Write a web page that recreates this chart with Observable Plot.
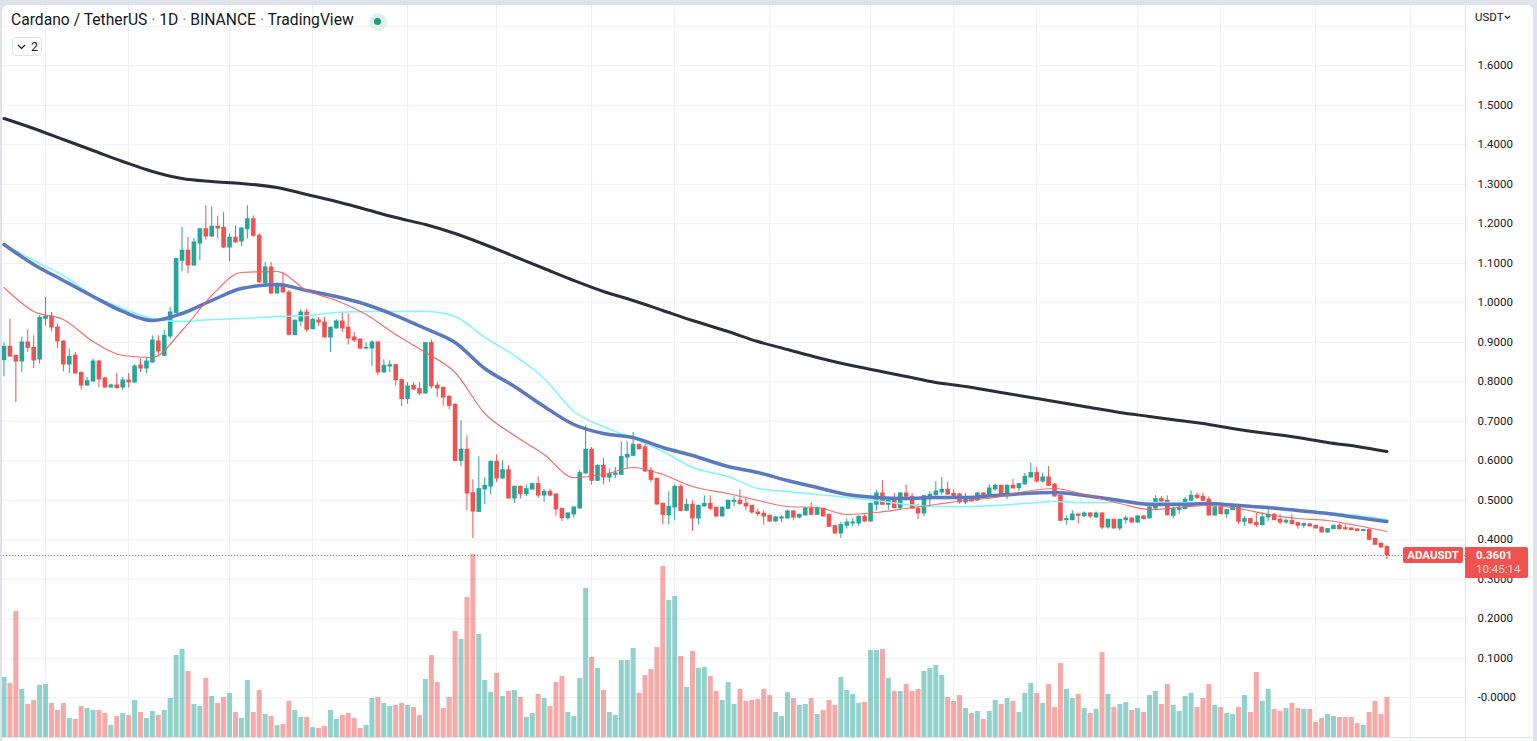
<!DOCTYPE html>
<html>
<head>
<meta charset="utf-8">
<script src="https://cdn.jsdelivr.net/npm/d3@7"></script>
<script src="https://cdn.jsdelivr.net/npm/@observablehq/plot@0.6"></script>
<style>
  html, body { margin:0; padding:0; width:1537px; height:741px; overflow:hidden; background:#e0e3eb; font-family: Roboto, "Noto Sans", sans-serif; color:#131722; }
  #panel { position:absolute; left:2px; top:5px; width:1531px; height:760px; background:#fff; border-radius:6px; overflow:hidden; }
  #stage { position:absolute; left:-2px; top:-5px; width:1537px; height:741px; }
  #stage svg { position:absolute; left:0; top:0; }
  .sep-v { position:absolute; left:1465px; top:0; width:1px; height:741px; background:#e0e3eb; }
  .sep-h { position:absolute; left:0; top:737px; width:1537px; height:1px; background:#e0e3eb; }
  #title { position:absolute; left:11px; top:10px; line-height:20px; font-size:14px; white-space:nowrap; color:#131722; }
  #title .dot { color:#787b86; }
  #live { position:absolute; left:368.5px; top:12.5px; width:18px; height:18px; border-radius:50%; background:#dff2ed; }
  #live i { position:absolute; left:5.5px; top:5.5px; width:7px; height:7px; border-radius:50%; background:#1b9e7f; }
  #collapse { position:absolute; left:12px; top:37px; width:28px; height:17px; border:1px solid #e0e3eb; border-radius:4px; background:#fff; font-size:12.5px; line-height:17px; }
  #collapse svg { position:absolute; left:4px; top:6px; }
  #collapse span { position:absolute; left:18px; top:0; }
  #usdt { position:absolute; left:1475px; top:9px; font-size:11.5px; line-height:16px; }
  #usdt svg { position:absolute; left:29px; top:6px; }
  #tag { position:absolute; left:1403px; width:60px; height:16px; background:#ef5350; color:#fff; font-size:11.5px; font-weight:bold; line-height:16px; text-align:center; border-radius:2px; }
  #badge { position:absolute; left:1465px; width:63px; height:31px; background:#ef5350; color:#fff; border-radius:0 2px 2px 0; }
  #badge .p { position:absolute; left:11px; top:1px; font-size:11.5px; font-weight:bold; line-height:15px; }
  #badge .t { position:absolute; left:11px; top:15px; font-size:11.5px; line-height:15px; color:rgba(255,255,255,0.78); }
</style>
</head>
<body>
<div id="panel"><div id="stage"></div></div>
<script>
// ---------------- data ----------------
const startDate = "2022-02-22";   // first daily candle (ADA/USDT, Binance)
const opens = [
0.8548,0.8886,0.8658,0.8514,0.8995,0.8860,0.8565,0.9595,0.9645,0.9375,
0.9021,0.8438,0.8658,0.8227,0.7907,0.8008,0.8514,0.8084,0.7856,0.7907,
0.7856,0.8033,0.7983,0.8413,0.8337,0.8489,0.9021,0.8658,0.9147,0.9738,
1.1063,1.1316,1.0945,1.1502,1.1865,1.1679,1.1924,1.1899,1.1401,1.1646,
1.1553,1.1865,1.2118,1.1696,1.0498,1.0894,1.0236,1.0464,1.0261,0.9181,
0.9527,0.9755,0.9333,0.9552,0.9502,0.9122,0.9350,0.9527,0.9367,0.9122,
0.9071,0.8843,0.8843,0.8995,0.8236,0.8388,0.8421,0.8042,0.7561,0.7898,
0.7814,0.7704,0.8979,0.7898,0.7848,0.7620,0.7417,0.5999,0.6278,0.5181,
0.4708,0.5274,0.5349,0.5974,0.5552,0.5763,0.5046,0.5341,0.5155,0.5274,
0.5409,0.5122,0.5214,0.5147,0.4784,0.4548,0.4641,0.4792,0.5679,0.6278,
0.5493,0.5873,0.5577,0.5645,0.5645,0.6084,0.6126,0.6405,0.6337,0.5746,
0.5544,0.4911,0.4624,0.4818,0.5341,0.4733,0.4886,0.4540,0.4844,0.4911,
0.4810,0.4591,0.4785,0.4962,0.4987,0.4911,0.4861,0.4692,0.4658,0.4608,
0.4464,0.4540,0.4540,0.4717,0.4565,0.4616,0.4785,0.4633,0.4785,0.4633,
0.4346,0.4160,0.4354,0.4413,0.4413,0.4582,0.4464,0.4886,0.5173,0.4886,
0.4987,0.4802,0.5173,0.5089,0.4776,0.4667,0.5097,0.5130,0.5198,0.5266,
0.5164,0.5147,0.4945,0.5012,0.4995,0.5173,0.5097,0.5274,0.5367,0.5097,
0.5367,0.5308,0.5401,0.5578,0.5688,0.5477,0.5578,0.5392,0.5114,0.4497,
0.4497,0.4641,0.4599,0.4666,0.4565,0.4666,0.4312,0.4506,0.4287,0.4497,
0.4540,0.4438,0.4591,0.4540,0.4793,0.5029,0.4987,0.4608,0.4760,0.4777,
0.4988,0.5114,0.5089,0.5013,0.4616,0.4819,0.4650,0.4751,0.4861,0.4456,
0.4523,0.4422,0.4371,0.4566,0.4633,0.4507,0.4439,0.4481,0.4422,0.4355,
0.4388,0.4355,0.4304,0.4186,0.4270,0.4355,0.4295,0.4287,0.4262,0.4220,
0.4245,0.4025,0.3899,0.3823];
const highs = [
0.8995,0.9586,0.8675,0.9122,0.9316,0.9164,0.9670,1.0135,0.9755,0.9460,
0.9040,0.8827,0.8742,0.8240,0.8109,0.8573,0.8548,0.8109,0.7940,0.8210,
0.8109,0.8210,0.8430,0.8573,0.8616,0.9164,0.9164,0.9308,0.9882,1.1122,
1.1907,1.1654,1.1629,1.1882,1.2456,1.2430,1.2186,1.2287,1.1738,1.1949,
1.1900,1.2456,1.2203,1.1747,1.1021,1.1021,1.0498,1.0751,1.0304,0.9570,
0.9823,0.9839,0.9603,0.9620,0.9628,0.9392,0.9570,0.9772,0.9713,0.9249,
0.9080,0.8995,0.9038,0.9021,0.8557,0.8531,0.8438,0.8067,0.7983,0.7966,
0.7983,0.8995,0.9063,0.7983,0.7865,0.7645,0.7440,0.7012,0.6632,0.5518,
0.6101,0.5577,0.5999,0.6151,0.5999,0.5873,0.5360,0.5360,0.5392,0.5420,
0.5594,0.5274,0.5274,0.5160,0.4800,0.4680,0.4830,0.5763,0.6886,0.6337,
0.5890,0.6058,0.5788,0.5831,0.6480,0.6480,0.6717,0.6420,0.6405,0.5831,
0.5560,0.4920,0.5214,0.5392,0.5392,0.5029,0.4987,0.4870,0.5114,0.5114,
0.4820,0.4835,0.5000,0.5089,0.5266,0.5063,0.4870,0.4776,0.4734,0.4620,
0.4591,0.4608,0.4751,0.4734,0.4650,0.4819,0.4937,0.4835,0.4800,0.4650,
0.4360,0.4439,0.4523,0.4523,0.4608,0.4633,0.4930,0.5241,0.5494,0.5046,
0.5173,0.5198,0.5384,0.5173,0.4903,0.5115,0.5223,0.5468,0.5578,0.5451,
0.5266,0.5181,0.5173,0.5097,0.5198,0.5198,0.5392,0.5409,0.5380,0.5392,
0.5536,0.5434,0.5679,0.5941,0.5831,0.5688,0.5856,0.5426,0.5130,0.4607,
0.4734,0.4650,0.4708,0.4692,0.4708,0.4680,0.4520,0.4520,0.4520,0.4607,
0.4550,0.4607,0.4607,0.4830,0.5114,0.5097,0.5114,0.4819,0.4861,0.5072,
0.5241,0.5182,0.5182,0.5089,0.4903,0.4861,0.4777,0.4903,0.4903,0.4582,
0.4549,0.4667,0.4692,0.4819,0.4667,0.4633,0.4523,0.4633,0.4430,0.4422,
0.4414,0.4360,0.4329,0.4287,0.4371,0.4397,0.4371,0.4304,0.4287,0.4262,
0.4287,0.4030,0.3933,0.3830];
const lows = [
0.8126,0.8620,0.7476,0.8236,0.8742,0.8337,0.8447,0.9417,0.9265,0.8843,
0.8253,0.8210,0.8193,0.7789,0.7881,0.7983,0.7856,0.7839,0.7839,0.7814,
0.7780,0.7839,0.7957,0.8236,0.8210,0.8470,0.8641,0.8641,0.9080,0.9713,
1.0785,1.0742,1.0930,1.1063,1.1586,1.1660,1.1629,1.1380,1.1046,1.1510,
1.1426,1.1612,1.1654,1.0498,1.0396,1.0211,1.0220,1.0250,0.9164,0.9170,
0.9401,0.9249,0.9316,0.9401,0.9110,0.8742,0.9333,0.9249,0.8928,0.8995,
0.8810,0.8810,0.8388,0.8151,0.8219,0.8236,0.7898,0.7375,0.7434,0.7789,
0.7645,0.7687,0.7814,0.7603,0.7392,0.7291,0.5970,0.5847,0.4733,0.4033,
0.4691,0.4894,0.5147,0.5451,0.5540,0.5030,0.4919,0.5029,0.5096,0.5257,
0.5046,0.4944,0.5096,0.4598,0.4463,0.4497,0.4548,0.4780,0.5660,0.5383,
0.5470,0.5392,0.5451,0.5552,0.5630,0.5788,0.6110,0.6269,0.5710,0.5451,
0.4880,0.4379,0.4379,0.4480,0.4716,0.4720,0.4211,0.4371,0.4830,0.4734,
0.4565,0.4580,0.4760,0.4835,0.4886,0.4734,0.4650,0.4591,0.4371,0.4439,
0.4439,0.4439,0.4530,0.4481,0.4523,0.4608,0.4620,0.4620,0.4574,0.4312,
0.4143,0.4034,0.4270,0.4329,0.4338,0.4447,0.4450,0.4734,0.4870,0.4751,
0.4790,0.4751,0.4987,0.4776,0.4515,0.4590,0.4860,0.5071,0.5130,0.5130,
0.5071,0.4903,0.4886,0.4962,0.4980,0.5071,0.5080,0.5240,0.5080,0.5012,
0.5290,0.5223,0.5390,0.5561,0.5434,0.5434,0.5350,0.5080,0.4455,0.4371,
0.4480,0.4396,0.4565,0.4540,0.4550,0.4253,0.4270,0.4270,0.4227,0.4396,
0.4422,0.4422,0.4506,0.4530,0.4776,0.4860,0.4610,0.4540,0.4650,0.4760,
0.4971,0.5030,0.4971,0.4600,0.4600,0.4640,0.4540,0.4740,0.4397,0.4338,
0.4397,0.4312,0.4355,0.4464,0.4490,0.4380,0.4397,0.4380,0.4270,0.4287,
0.4330,0.4280,0.4180,0.4160,0.4253,0.4245,0.4253,0.4228,0.4203,0.4211,
0.3975,0.3865,0.3781,0.3494];
const closes = [
0.8886,0.8641,0.8514,0.8995,0.8860,0.8540,0.9620,0.9645,0.9375,0.9021,
0.8438,0.8632,0.8210,0.7907,0.8016,0.8514,0.8059,0.7856,0.7907,0.7839,
0.8033,0.7983,0.8388,0.8337,0.8514,0.9046,0.8768,0.9164,0.9755,1.1105,
1.1316,1.0945,1.1527,1.1865,1.1679,1.1924,1.1882,1.1401,1.1646,1.1527,
1.1882,1.2118,1.1696,1.0515,1.0894,1.0236,1.0464,1.0261,0.9190,0.9544,
0.9755,0.9316,0.9570,0.9502,0.9122,0.9367,0.9527,0.9350,0.9097,0.9046,
0.8843,0.8860,0.8995,0.8236,0.8405,0.8421,0.8042,0.7561,0.7881,0.7805,
0.7704,0.8979,0.7881,0.7831,0.7603,0.7392,0.5999,0.6278,0.5172,0.4717,
0.5282,0.5366,0.5974,0.5552,0.5763,0.5046,0.5341,0.5155,0.5282,0.5409,
0.5122,0.5214,0.5122,0.4767,0.4548,0.4666,0.4818,0.5687,0.6278,0.5493,
0.5873,0.5577,0.5662,0.5679,0.6101,0.6151,0.6405,0.6295,0.5729,0.5518,
0.4894,0.4632,0.4835,0.5341,0.4733,0.4885,0.4540,0.4861,0.4911,0.4785,
0.4591,0.4810,0.4987,0.4987,0.4903,0.4844,0.4692,0.4650,0.4591,0.4464,
0.4565,0.4565,0.4717,0.4565,0.4633,0.4785,0.4633,0.4785,0.4591,0.4329,
0.4160,0.4371,0.4439,0.4439,0.4582,0.4464,0.4911,0.5173,0.4886,0.4987,
0.4802,0.5173,0.5089,0.4790,0.4667,0.5105,0.5139,0.5223,0.5266,0.5147,
0.5097,0.4945,0.5046,0.4970,0.5173,0.5097,0.5299,0.5367,0.5097,0.5367,
0.5299,0.5409,0.5595,0.5688,0.5477,0.5578,0.5367,0.5097,0.4481,0.4523,
0.4641,0.4607,0.4666,0.4591,0.4666,0.4312,0.4506,0.4287,0.4506,0.4540,
0.4438,0.4591,0.4523,0.4818,0.5029,0.4970,0.4624,0.4777,0.4802,0.5013,
0.5114,0.5055,0.4988,0.4616,0.4819,0.4650,0.4751,0.4861,0.4456,0.4523,
0.4414,0.4371,0.4566,0.4633,0.4498,0.4439,0.4481,0.4397,0.4355,0.4397,
0.4338,0.4287,0.4186,0.4270,0.4355,0.4270,0.4262,0.4245,0.4220,0.4245,
0.4000,0.3874,0.3806,0.3601];
// daily volume, millions of ADA
const volumes = [
900,810,1890,720,495,555,780,795,510,405,
510,285,270,465,435,405,405,360,180,315,
360,330,555,375,285,390,330,405,585,1230,
1320,990,495,465,885,615,510,600,660,375,
285,855,375,705,345,315,180,195,540,405,
300,300,150,135,165,405,270,330,360,285,
135,180,585,600,510,465,480,510,480,450,
330,870,1230,825,435,600,1590,1470,2100,2745,
1545,855,675,960,615,690,705,600,300,360,
645,585,465,825,915,375,315,885,2235,1200,
1035,705,375,330,1155,1155,1335,660,930,1020,
1350,2565,2055,2115,1215,750,1290,1035,1050,915,
690,555,825,495,720,540,555,570,720,630,
375,315,675,585,480,495,585,345,405,555,
480,900,705,645,510,525,1305,1305,1320,885,
690,690,795,690,720,990,1035,1080,930,600,
540,630,435,360,390,270,390,555,495,585,
540,375,660,810,660,510,795,450,1110,720,
585,645,435,360,420,1275,645,450,495,525,
405,435,375,630,690,495,795,480,390,615,
660,450,585,795,480,450,360,345,450,630,
375,975,540,720,420,390,435,510,435,420,
420,225,285,345,315,300,300,300,210,180,
375,540,345,600];

// moving averages, read at these day offsets from startDate
const maDays = [0,5,10,15,20,25,30,35,40,46,51,56,61,66,71,76,81,86,91,96,101,106,111,116,122,127,132,137,142,147,152,157,162,167,172,177,182,188,193,198,203,208,213,218,223,228,233];
const ma200 = [1.4666,1.4413,1.4134,1.3856,1.3577,1.3324,1.3147,1.3071,1.3020,1.2919,1.2742,1.2565,1.2362,1.2159,1.1982,1.1754,1.1476,1.1172,1.0868,1.0565,1.0286,1.0058,0.9805,0.9552,0.9273,0.9020,0.8818,0.8615,0.8438,0.8286,0.8134,0.7982,0.7881,0.7754,0.7628,0.7501,0.7375,0.7223,0.7122,0.7020,0.6919,0.6792,0.6691,0.6590,0.6463,0.6362,0.6235];
const ma50 = [1.1476,1.0970,1.0565,1.0159,0.9780,0.9551,0.9729,1.0058,1.0362,1.0463,1.0311,1.0159,0.9957,0.9678,0.9349,0.8995,0.8337,0.7881,0.7375,0.6919,0.6691,0.6590,0.6337,0.6134,0.5856,0.5704,0.5501,0.5324,0.5147,0.5071,0.5046,0.5071,0.5071,0.5122,0.5172,0.5197,0.5122,0.4995,0.4894,0.4894,0.4919,0.4868,0.4818,0.4742,0.4666,0.4565,0.4463];
const maCyan = [1.1476,1.1071,1.0691,1.0185,0.9856,0.9603,0.9527,0.9577,0.9603,0.9653,0.9678,0.9754,0.9780,0.9780,0.9780,0.9653,0.9122,0.8666,0.8084,0.7248,0.6868,0.6565,0.6235,0.5830,0.5603,0.5299,0.5223,0.5147,0.5071,0.4995,0.4894,0.4843,0.4843,0.4868,0.4919,0.4970,0.4944,0.4944,0.4944,0.4944,0.4919,0.4894,0.4818,0.4767,0.4691,0.4615,0.4514];
const maRed = [1.0387,0.9780,0.9577,0.9020,0.8666,0.8615,0.9299,1.0185,1.0767,1.0793,1.0311,1.0058,0.9704,0.9197,0.8742,0.8235,0.7197,0.6641,0.6159,0.5577,0.5653,0.5830,0.5653,0.5349,0.5172,0.4995,0.4843,0.4818,0.4641,0.4691,0.4792,0.4894,0.4995,0.5071,0.5223,0.5299,0.5147,0.4919,0.4767,0.4818,0.4868,0.4792,0.4641,0.4539,0.4489,0.4362,0.4210];

const gridDates = ["2022-03-01","2022-03-15","2022-04-01","2022-04-15","2022-05-01","2022-05-16","2022-06-01","2022-06-15","2022-07-01","2022-07-18","2022-08-01","2022-08-15","2022-09-01","2022-09-15","2022-10-01","2022-10-17"];
const gridPrices = [-0.1,0,0.1,0.2,0.3,0.4,0.5,0.6,0.7,0.8,0.9,1.0,1.1,1.2,1.3,1.4,1.5,1.6,1.7];
const priceTicks = [0,0.1,0.2,0.3,0.4,0.5,0.6,0.7,0.8,0.9,1.0,1.1,1.2,1.3,1.4,1.5,1.6];
const priceTickLabels = ["-0.0000","0.1000","0.2000","0.3000","0.4000","0.5000","0.6000","0.7000","0.8000","0.9000","1.0000","1.1000","1.2000","1.3000","1.4000","1.5000","1.6000"];
const symbol = "ADAUSDT";
const countdown = "10:45:14";

// ---------------- build ----------------
const UP = "#26a69a", DOWN = "#ef5350";
const start = new Date(startDate);
const candles = opens.map((o, i) => ({
  date: d3.utcDay.offset(start, i), open: o, high: highs[i], low: lows[i], close: closes[i],
  volume: volumes[i], up: closes[i] >= o
}));
const N = candles.length;
const maRows = maDays.map((d, k) => ({date: d3.utcDay.offset(start, d), ma200: ma200[k], ma50: ma50[k], cyan: maCyan[k], red: maRed[k]}));
const last = candles[N - 1];

const xOpt = {type: "utc", domain: [candles[0].date, last.date], range: [3.5, 1386.4], axis: null};
const yPrice = {domain: [0, 1.6], range: [697.3, 65.3], axis: null};
const transparent = {background: "transparent", overflow: "visible"};

// layer 1: grid + last-price line
const gridPlot = Plot.plot({
  width: 1465, height: 741, margin: 0, x: xOpt, y: yPrice, style: transparent,
  marks: [
    Plot.ruleX(gridDates.map(d => new Date(d)), {stroke: "#eef0f4", strokeWidth: 1}),
    Plot.ruleY(gridPrices, {stroke: "#eef0f4", strokeWidth: 1}),
    Plot.ruleY([last.close], {stroke: DOWN, strokeWidth: 1, strokeDasharray: "1,2"})
  ]
});

// layer 2: volume
const volPlot = Plot.plot({
  width: 1465, height: 741, margin: 0, x: xOpt,
  y: {domain: [0, 2745], range: [737, 554], axis: null}, style: transparent,
  marks: [
    Plot.ruleX(candles, {x: "date", y1: 0, y2: "volume", stroke: d => d.up ? UP : DOWN, strokeOpacity: 0.5, strokeWidth: 5})
  ]
});

// layer 3: price
const pricePlot = Plot.plot({
  width: 1537, height: 741, margin: 0, x: xOpt, y: yPrice,
  style: {...transparent, fontFamily: "Roboto, 'Noto Sans', sans-serif", color: "#131722"},
  marks: [
    Plot.ruleX(candles, {x: "date", y1: "low", y2: "high", stroke: d => d.up ? UP : DOWN, strokeWidth: 1}),
    Plot.ruleX(candles, {x: "date", y1: d => Math.max(d.open, d.close), y2: d => Math.min(d.open, d.close),
      stroke: d => d.up ? UP : DOWN, strokeWidth: 4.6, insetTop: -0.5, insetBottom: -0.5}),
    Plot.line(maRows, {x: "date", y: "ma200", stroke: "#2a2e39", strokeWidth: 3, curve: "monotone-x"}),
    Plot.line(maRows, {x: "date", y: "cyan", stroke: "#7ff7fa", strokeWidth: 1.5, curve: "monotone-x"}),
    Plot.line(maRows, {x: "date", y: "ma50", stroke: "#5a79bf", strokeWidth: 3.5, curve: "monotone-x"}),
    Plot.line(maRows, {x: "date", y: "red", stroke: "#f0605c", strokeOpacity: 0.9, strokeWidth: 1.2, curve: "monotone-x"}),
    Plot.axisY(priceTicks, {anchor: "right", tickSize: 0, tickPadding: 0, dx: -60, label: null,
      fontSize: 11.5, fill: "#131722", tickFormat: d => priceTickLabels[Math.round(d * 10)]})
  ]
});

const stage = document.getElementById("stage");
stage.append(gridPlot, volPlot, pricePlot);

// chrome
const add = (html) => { stage.insertAdjacentHTML("beforeend", html); };
add('<div class="sep-v"></div><div class="sep-h"></div>');
add('<div id="title">Cardano / TetherUS <span class="dot">·</span> 1D <span class="dot">·</span> BINANCE <span class="dot">·</span> TradingView</div>');
add('<div id="live"><i></i></div>');
add('<div id="collapse"><svg width="9" height="6"><polyline points="1,1 4.5,4.5 8,1" fill="none" stroke="#131722" stroke-width="1.2"/></svg><span>2</span></div>');
add('<div id="usdt">USDT<svg width="7" height="5"><polyline points="1,1 3.5,3.5 6,1" fill="none" stroke="#131722" stroke-width="1.1"/></svg></div>');
const yc = pricePlot.scale("y").apply(last.close);
add(`<div id="tag" style="top:${yc - 8}px">${symbol}</div>`);
add(`<div id="badge" style="top:${yc - 8}px"><span class="p">${last.close.toFixed(4)}</span><span class="t">${countdown}</span></div>`);

// fit the title to its measured width in the reference
const title = document.getElementById("title");
const w = title.getBoundingClientRect().width;
title.style.fontSize = (14 * 343 / w).toFixed(2) + "px";
</script>
</body>
</html>
